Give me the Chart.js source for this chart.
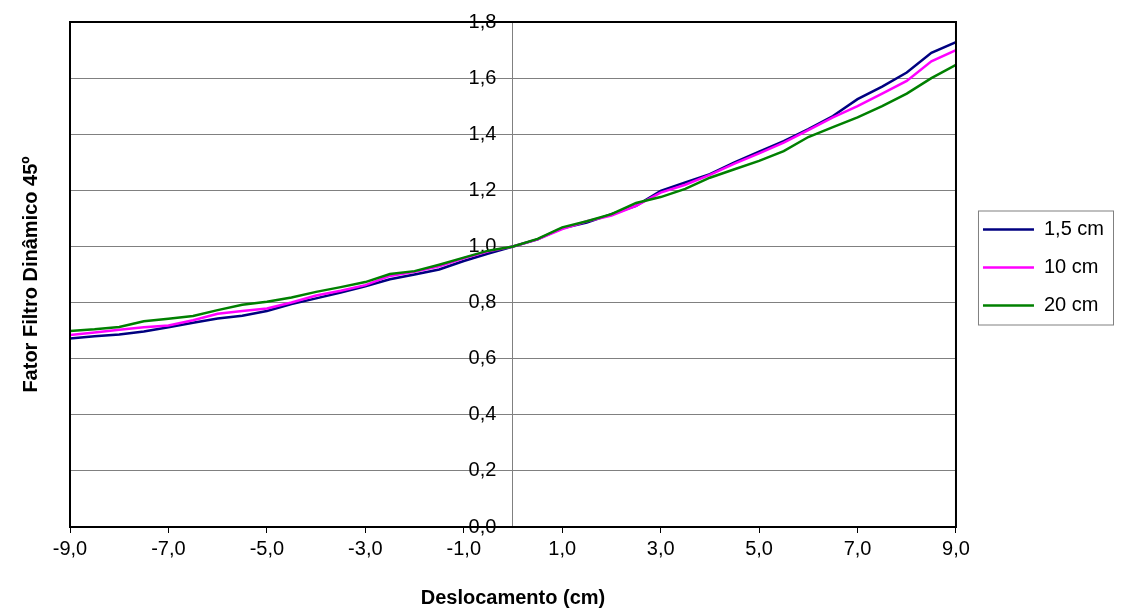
<!DOCTYPE html>
<html>
<head>
<meta charset="utf-8">
<script src="https://cdn.jsdelivr.net/npm/chart.js@4.4.1/dist/chart.umd.min.js"></script>
<style>
  html, body { margin: 0; padding: 0; background: #fff; }
  #wrap { width: 1125px; height: 615px; }
</style>
</head>
<body>
<div id="wrap"><canvas id="grafico" width="1125" height="615"></canvas></div>
<script>
// Deslocamento (cm)
const deslocamento = [-9, -8.5, -8, -7.5, -7, -6.5, -6, -5.5, -5, -4.5, -4, -3.5, -3, -2.5, -2, -1.5, -1, -0.5,
  0, 0.5, 1, 1.5, 2, 2.5, 3, 3.5, 4, 4.5, 5, 5.5, 6, 6.5, 7, 7.5, 8, 8.5, 9];

// Fator filtro dinâmico 45º por profundidade
const campo1_5 = [0.672, 0.680, 0.686, 0.697, 0.712, 0.728, 0.743, 0.753, 0.770, 0.795, 0.815, 0.836, 0.858, 0.883, 0.900, 0.918, 0.948, 0.975,
  1.000, 1.025, 1.065, 1.085, 1.115, 1.145, 1.198, 1.228, 1.258, 1.300, 1.338, 1.375, 1.418, 1.465, 1.525, 1.570, 1.620, 1.690, 1.728];
const campo10 = [0.684, 0.693, 0.703, 0.712, 0.718, 0.737, 0.760, 0.770, 0.779, 0.800, 0.825, 0.842, 0.862, 0.895, 0.910, 0.929, 0.958, 0.983,
  1.000, 1.025, 1.062, 1.090, 1.110, 1.145, 1.192, 1.220, 1.255, 1.295, 1.332, 1.370, 1.415, 1.460, 1.500, 1.545, 1.590, 1.660, 1.700];
const campo20 = [0.699, 0.705, 0.713, 0.733, 0.742, 0.752, 0.773, 0.792, 0.803, 0.818, 0.838, 0.855, 0.873, 0.902, 0.912, 0.935, 0.960, 0.985,
  1.000, 1.027, 1.068, 1.090, 1.115, 1.155, 1.176, 1.205, 1.245, 1.275, 1.305, 1.340, 1.390, 1.425, 1.460, 1.500, 1.545, 1.600, 1.647];

const rotulos = ['1,5 cm', '10 cm', '20 cm'];
const cores = ['#000080', '#FF00FF', '#008000'];

// formato com vírgula decimal
function virgula(v) {
  return Number(v).toFixed(1).replace('.', ',');
}

function pontos(valores) {
  return deslocamento.map((x, i) => ({ x: x, y: valores[i] }));
}

// moldura da área do gráfico + caixa da legenda
const moldura = {
  id: 'moldura',
  afterLayout(chart) {
    // legenda um pouco mais afastada e mais alta, como no original
    const leg = chart.legend;
    leg.left += 9; leg.right += 9;
    leg.top -= 51; leg.bottom -= 51;
  },
  afterDraw(chart) {
    const ctx = chart.ctx;
    const a = chart.chartArea;
    ctx.save();
    ctx.strokeStyle = '#000';
    ctx.lineWidth = 2;
    ctx.strokeRect(a.left, a.top, a.right - a.left, a.bottom - a.top);
    const caixas = chart.legend.legendHitBoxes;
    if (caixas && caixas.length) {
      const primeiro = caixas[0];
      const ultimo = caixas[caixas.length - 1];
      let direita = 0;
      caixas.forEach(c => { direita = Math.max(direita, c.left + c.width); });
      ctx.strokeStyle = '#808080';
      ctx.lineWidth = 1;
      ctx.strokeRect(primeiro.left - 4.5, primeiro.top - 8.5, direita - primeiro.left + 14, ultimo.top + ultimo.height - primeiro.top + 18);
    }
    ctx.restore();
  }
};

const fonte = "Arial, 'Liberation Sans', sans-serif";

new Chart(document.getElementById('grafico'), {
  type: 'line',
  data: {
    datasets: [
      { label: rotulos[0], data: pontos(campo1_5), borderColor: cores[0], backgroundColor: cores[0], order: 3 },
      { label: rotulos[1], data: pontos(campo10), borderColor: cores[1], backgroundColor: cores[1], order: 2 },
      { label: rotulos[2], data: pontos(campo20), borderColor: cores[2], backgroundColor: cores[2], order: 1 }
    ]
  },
  options: {
    responsive: false,
    animation: false,
    layout: { padding: { top: 22, right: 20, left: 0, bottom: 0 } },
    elements: {
      line: { borderWidth: 2.5, tension: 0 },
      point: { radius: 0, hoverRadius: 0 }
    },
    plugins: {
      tooltip: { enabled: false },
      legend: {
        position: 'right',
        labels: {
          usePointStyle: true,
          pointStyle: 'line',
          pointStyleWidth: 51,
          color: '#000',
          padding: 18,
          font: { family: fonte, size: 20 },
          sort: (a, b) => a.datasetIndex - b.datasetIndex,
          generateLabels(chart) {
            const itens = Chart.defaults.plugins.legend.labels.generateLabels(chart);
            itens.forEach(item => {
              item.strokeStyle = chart.data.datasets[item.datasetIndex].borderColor;
              item.lineWidth = 2.5;
            });
            return itens;
          }
        }
      }
    },
    scales: {
      x: {
        type: 'linear',
        min: -9,
        max: 9,
        afterFit(scale) { scale.height = 88; },
        ticks: {
          stepSize: 2,
          color: '#000',
          padding: 4,
          maxRotation: 0,
          font: { family: fonte, size: 20 },
          callback: v => virgula(v)
        },
        grid: { drawOnChartArea: false, drawTicks: true, tickLength: 6, color: '#000', lineWidth: 1 },
        border: { color: '#000', width: 2 },
        title: {
          display: true,
          text: 'Deslocamento (cm)',
          color: '#000',
          padding: { top: 0, bottom: 5 },
          font: { family: fonte, size: 20, weight: 'bold' }
        }
      },
      y: {
        type: 'linear',
        position: { x: 0 },
        min: 0,
        max: 1.8,
        ticks: {
          stepSize: 0.2,
          color: '#000',
          font: { family: fonte, size: 20 },
          // espaços finais afastam o rótulo do eixo central
          callback: v => virgula(v) + '   '
        },
        grid: { color: '#808080', lineWidth: 1, drawTicks: true, tickLength: 5 },
        border: { color: '#808080', width: 1 }
      },
      yTitulo: {
        type: 'linear',
        position: 'left',
        min: 0,
        max: 1.8,
        afterFit(scale) { scale.width = 70; },
        ticks: { display: false },
        grid: { display: false, drawTicks: false },
        border: { display: false },
        title: {
          display: true,
          text: 'Fator Filtro Dinâmico 45º',
          color: '#000',
          padding: { top: 19, bottom: 0 },
          font: { family: fonte, size: 20, weight: 'bold' }
        }
      }
    }
  },
  plugins: [moldura]
});
</script>
</body>
</html>
